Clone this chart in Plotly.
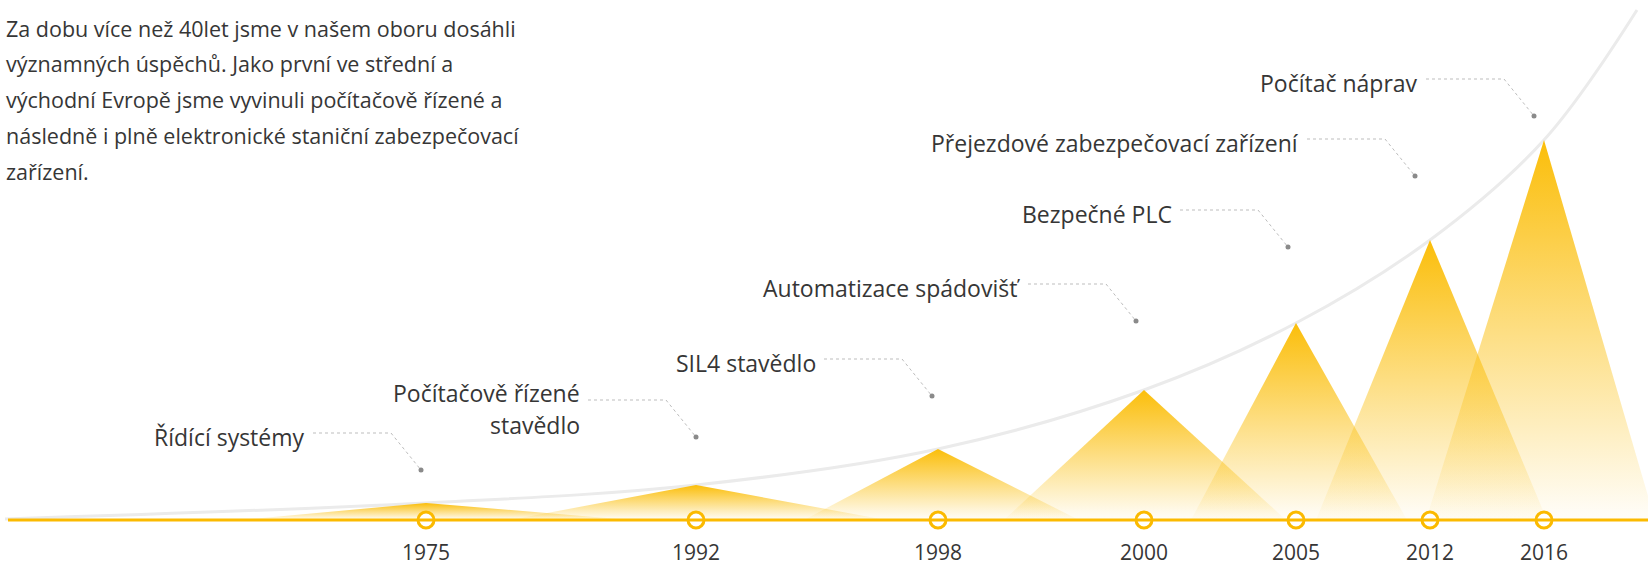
import plotly.graph_objects as go

# ---------------- data ----------------
years = ["1975", "1992", "1998", "2000", "2005", "2012", "2016"]
milestones = [
    "Řídící systémy",
    "Počítačově řízené\nstavědlo",
    "SIL4 stavědlo",
    "Automatizace spádovišť",
    "Bezpečné PLC",
    "Přejezdové zabezpečovací zařízení",
    "Počítač náprav",
]
timeline_pos = [426, 696, 938, 1144, 1296, 1430, 1544]
peak_value = [17, 35, 71, 130, 197, 280, 380]
spread_left = [186, 186, 134, 140, 105, 114, 118]
spread_right = [204, 190, 141, 142, 111, 117, 111]
note_pos = [421, 696, 932, 1136, 1288, 1415, 1534]
note_value = [50, 83, 124, 199, 273, 344, 404]
curve_start = (5, 1)
curve_end = (1637, 510)
intro_lines = [
    "Za dobu více než 40let jsme v našem oboru dosáhli",
    "významných úspěchů. Jako první ve střední a",
    "východní Evropě jsme vyvinuli počítačově řízené a",
    "následně i plně elektronické staniční zabezpečovací",
    "zařízení.",
]

# ---------------- styles ----------------
YELLOW = "#FBBA00"
TEXT = "#363636"
FONT = "Open Sans, Noto Sans, sans-serif"

fig = go.Figure()

# growth curve through the peaks
cx = [curve_start[0]] + timeline_pos + [curve_end[0]]
cy = [curve_start[1]] + peak_value + [curve_end[1]]
fig.add_trace(go.Scatter(
    x=cx, y=cy, mode="lines",
    line=dict(color="#ebebeb", width=3, shape="spline", smoothing=1.0),
    hoverinfo="skip", showlegend=False, cliponaxis=False,
))

# gradient triangles
for p, h, l, r in zip(timeline_pos, peak_value, spread_left, spread_right):
    fig.add_trace(go.Scatter(
        x=[p - l, p, p + r, p - l], y=[0, h, 0, 0],
        mode="lines", fill="toself",
        line=dict(width=0, color="rgba(0,0,0,0)"),
        fillgradient=dict(
            type="vertical",
            colorscale=[[0, "rgba(251,190,10,0.02)"], [1, "rgba(251,190,10,1)"]],
        ),
        hoverinfo="skip", showlegend=False,
    ))

# leader lines (dotted) and dots
DX, DY, HLEN, GAP = 30, 37, 78, 6
for nx, nv in zip(note_pos, note_value):
    fig.add_trace(go.Scatter(
        x=[nx - DX - HLEN, nx - DX, nx], y=[nv + DY, nv + DY, nv],
        mode="lines", line=dict(color="#bdbdbd", width=1, dash="dot"),
        hoverinfo="skip", showlegend=False,
    ))
fig.add_trace(go.Scatter(
    x=note_pos, y=note_value, mode="markers",
    marker=dict(size=5, color="#8a8a8a"),
    hoverinfo="skip", showlegend=False,
))

# timeline base line
fig.add_shape(type="line", xref="x", yref="y", x0=8, x1=1648, y0=0, y1=0,
              line=dict(color=YELLOW, width=3), layer="above")

# milestone circles
fig.add_trace(go.Scatter(
    x=timeline_pos, y=[0] * len(timeline_pos), mode="markers",
    marker=dict(size=16, color="white", line=dict(color=YELLOW, width=3)),
    hoverinfo="skip", showlegend=False, cliponaxis=False,
))

annotations = []
# year labels
for p, yr in zip(timeline_pos, years):
    annotations.append(dict(
        x=p, y=0, xref="x", yref="y", text=yr, showarrow=False,
        xanchor="center", yanchor="middle", yshift=-32, borderpad=0,
        font=dict(family=FONT, size=21, color=TEXT),
    ))
# milestone labels
for nx, nv, label in zip(note_pos, note_value, milestones):
    parts = label.split("\n")
    n = len(parts)
    first = -4 + 11 * (n - 1)
    for k, part in enumerate(parts):
        annotations.append(dict(
            x=nx - DX - HLEN - GAP, y=nv + DY, xref="x", yref="y",
            text=part, showarrow=False, xanchor="right", yanchor="middle",
            yshift=first - 32 * k,
            font=dict(family=FONT, size=23, color=TEXT),
        ))
# intro paragraph
for k, line in enumerate(intro_lines):
    annotations.append(dict(
        x=0, y=1, xref="paper", yref="paper", text=line, showarrow=False,
        xanchor="left", yanchor="middle", xshift=4, yshift=-28 - 35.8 * k,
        font=dict(family=FONT, size=21.5, color=TEXT),
    ))

fig.update_layout(
    width=1648, height=565,
    margin=dict(l=0, r=0, t=0, b=0),
    paper_bgcolor="white", plot_bgcolor="white",
    xaxis=dict(range=[0, 1648], visible=False, fixedrange=True),
    yaxis=dict(range=[-45, 520], visible=False, fixedrange=True),
    showlegend=False,
    annotations=annotations,
)

fig.write_html(
    "out.html",
    config={"displayModeBar": False},
    post_script="document.body.style.margin='0';document.body.style.overflow='hidden';",
)
